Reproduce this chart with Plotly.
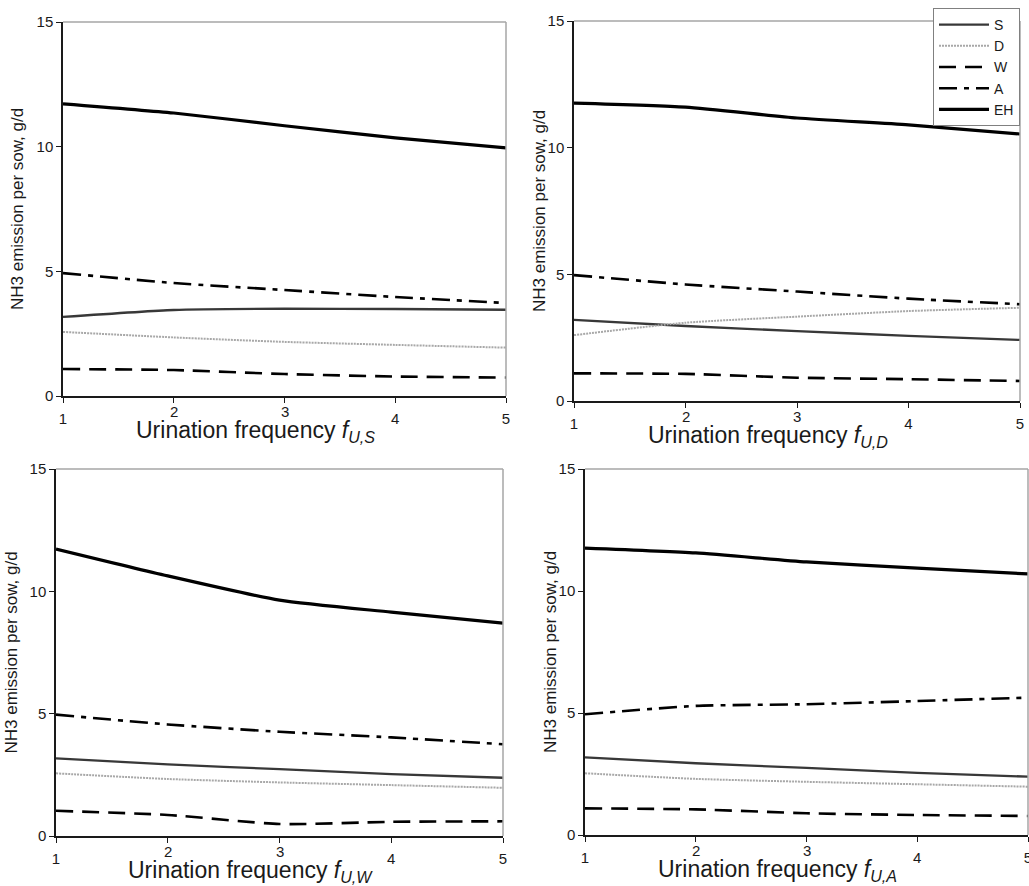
import plotly.graph_objects as go

# Urination frequency (x axis of every panel)
freq = [1, 2, 3, 4, 5]

# NH3 emission per sow, g/d, for each housing area, one panel per varied frequency
# Panel: f_U,S varied
s_S = [3.17, 3.45, 3.50, 3.49, 3.46]
d_S = [2.57, 2.35, 2.17, 2.05, 1.94]
w_S = [1.08, 1.04, 0.88, 0.78, 0.74]
a_S = [4.93, 4.53, 4.25, 3.97, 3.73]
eh_S = [11.72, 11.35, 10.84, 10.35, 9.95]

# Panel: f_U,D varied
s_D = [3.20, 2.96, 2.76, 2.57, 2.41]
d_D = [2.60, 3.09, 3.33, 3.55, 3.68]
w_D = [1.09, 1.07, 0.92, 0.86, 0.79]
a_D = [4.97, 4.60, 4.32, 4.04, 3.82]
eh_D = [11.76, 11.60, 11.17, 10.90, 10.54]

# Panel: f_U,W varied
s_W = [3.17, 2.93, 2.73, 2.53, 2.38]
d_W = [2.56, 2.33, 2.19, 2.08, 1.97]
w_W = [1.03, 0.86, 0.49, 0.58, 0.60]
a_W = [4.96, 4.56, 4.26, 4.03, 3.75]
eh_W = [11.73, 10.63, 9.64, 9.15, 8.70]

# Panel: f_U,A varied
s_A = [3.18, 2.94, 2.75, 2.55, 2.39]
d_A = [2.53, 2.30, 2.18, 2.08, 1.98]
w_A = [1.09, 1.05, 0.89, 0.82, 0.78]
a_A = [4.95, 5.29, 5.36, 5.49, 5.63]
eh_A = [11.76, 11.56, 11.19, 10.94, 10.70]

series_names = ["S", "D", "W", "A", "EH"]
panel_data = [
    [s_S, d_S, w_S, a_S, eh_S],
    [s_D, d_D, w_D, a_D, eh_D],
    [s_W, d_W, w_W, a_W, eh_W],
    [s_A, d_A, w_A, a_A, eh_A],
]
panel_subs = ["U,S", "U,D", "U,W", "U,A"]

x_ticks = [1, 2, 3, 4, 5]
x_ticks_high = [2, 3]       # labels sitting higher, above the axis title
y_ticks = [0, 5, 10, 15]

W, H = 1029, 886
FONT = "Liberation Sans, Arial, sans-serif"
INK = "#1a1a1a"

styles = {
    "S": dict(color="#383838", width=2.3, dash="solid"),
    "D": dict(color="#a8a8a8", width=2.0, dash="2px,1px"),
    "W": dict(color="#000000", width=2.6, dash="17px,9px"),
    "A": dict(color="#000000", width=2.6, dash="18px,7px,5px,7px"),
    "EH": dict(color="#000000", width=3.2, dash="solid"),
}

# plot-area boxes in pixels: left, right, top, bottom
boxes = [
    (63, 506, 22, 396),
    (574, 1020, 21, 401),
    (56, 503, 469, 836),
    (585, 1028, 469, 835),
]


def px_x(p):
    return p / W


def px_y(p):
    return 1 - p / H


fig = go.Figure()
layout = dict(
    width=W, height=H, autosize=False,
    margin=dict(l=0, r=0, t=0, b=0, pad=0),
    paper_bgcolor="white", plot_bgcolor="white",
    font=dict(family=FONT, size=14, color=INK),
    showlegend=True,
)

shapes = []
annotations = []

for i, (data, sub, box) in enumerate(zip(panel_data, panel_subs, boxes)):
    n = "" if i == 0 else str(i + 1)
    xa, ya = "x" + n, "y" + n
    left, right, top, bottom = box
    for name, vals in zip(series_names, data):
        st = styles[name]
        fig.add_trace(go.Scatter(
            x=freq, y=vals, mode="lines", name=name,
            line=dict(color=st["color"], width=st["width"], dash=st["dash"],
                      shape="spline", smoothing=0.6),
            xaxis=xa, yaxis=ya, showlegend=(i == 1), hoverinfo="skip",
            cliponaxis=False,
        ))
    layout["xaxis" + n] = dict(
        domain=[px_x(left), px_x(right)], anchor=ya, range=[1, 5],
        tickvals=x_ticks,
        ticktext=["" if v in x_ticks_high else str(v) for v in x_ticks],
        ticks="outside", ticklen=5, tickcolor=INK,
        showline=True, linecolor=INK, linewidth=1.5, showgrid=False,
        zeroline=False, tickfont=dict(size=15, color=INK), ticklabelstandoff=3,
        automargin=False, ticklabeloverflow="allow",
    )
    layout["yaxis" + n] = dict(
        domain=[px_y(bottom), px_y(top)], anchor=xa, range=[0, 15],
        tickvals=y_ticks, ticks="outside", ticklen=5, tickcolor=INK,
        showline=True, linecolor=INK, linewidth=1.5, showgrid=False,
        zeroline=False, tickfont=dict(size=15, color=INK),
        automargin=False, ticklabeloverflow="allow",
    )
    # raised tick labels, placed on the x scale of this panel
    for v in x_ticks_high:
        annotations.append(dict(
            text=str(v), xref=xa, yref="paper", x=v, y=px_y(bottom + 15),
            xanchor="center", yanchor="middle", showarrow=False,
            font=dict(size=15, color=INK, family=FONT),
        ))
    # light frame on top and right of each plot area
    shapes.append(dict(type="line", xref=xa + " domain", yref=ya + " domain",
                       x0=0, x1=1, y0=1, y1=1,
                       line=dict(color="#a6a6a6", width=1.5)))
    shapes.append(dict(type="line", xref=xa + " domain", yref=ya + " domain",
                       x0=1, x1=1, y0=0, y1=1,
                       line=dict(color="#a6a6a6", width=1.5)))
    # axis titles
    annotations.append(dict(
        text="NH3 emission per sow, g/d", textangle=-90,
        xref="paper", yref="paper",
        x=px_x(left - 45 if i in (0, 2) else left - 35), y=px_y((top + bottom) / 2),
        xanchor="center", yanchor="middle", showarrow=False,
        font=dict(size=17, color=INK, family=FONT),
    ))
    annotations.append(dict(
        text="Urination frequency <i>f</i><sub><i>" + sub + "</i></sub>",
        xref="paper", yref="paper",
        x=px_x(left + 0.435 * (right - left)), y=px_y(bottom + 35),
        xanchor="center", yanchor="middle", showarrow=False,
        font=dict(size=23, color=INK, family=FONT),
    ))

layout["shapes"] = shapes
layout["annotations"] = annotations
layout["legend"] = dict(
    x=px_x(1020), y=px_y(8), xanchor="right", yanchor="top",
    bgcolor="white", bordercolor="#808080", borderwidth=1,
    font=dict(size=14, color=INK, family=FONT),
    itemwidth=50, tracegroupgap=0,
)
fig.update_layout(**layout)
fig.write_html("out.html")
